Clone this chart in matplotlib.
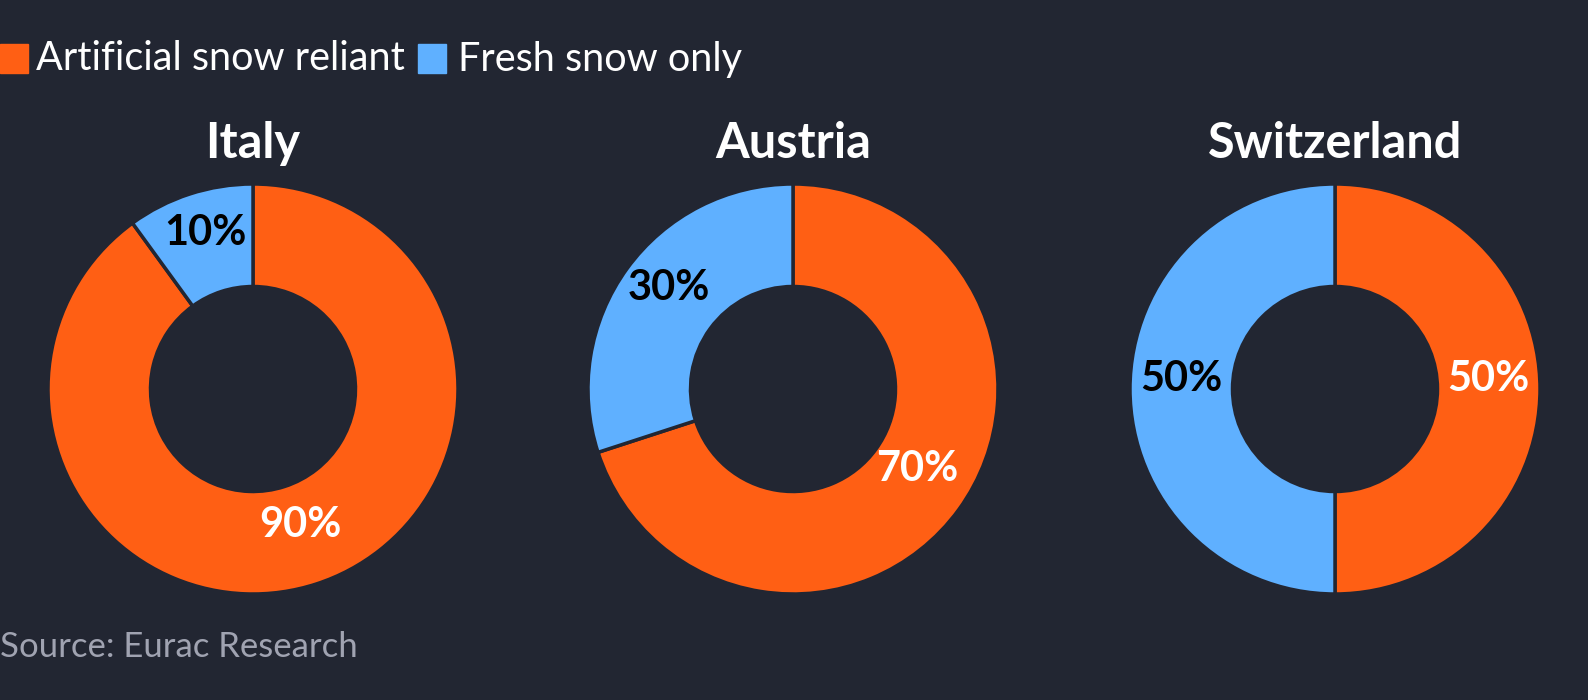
import numpy as np
import matplotlib.pyplot as plt

countries = ['Italy', 'Austria', 'Switzerland']
artificial = [90, 70, 50]
fresh = [10, 30, 50]
series_names = ['Artificial snow reliant', 'Fresh snow only']
source = 'Source: Eurac Research'

bg = '#222632'
orange = '#ff5f14'
blue = '#5fb0ff'

plt.rcParams['font.family'] = ['Lato', 'DejaVu Sans']

W, H = 1588, 700
fig = plt.figure(figsize=(W / 100, H / 100), dpi=100, facecolor=bg)

centers_x = [253, 793, 1335]
cy = 389
R = 205

for i, name in enumerate(countries):
    cx = centers_x[i]
    ax = fig.add_axes([(cx - R) / W, (H - cy - R) / H, 2 * R / W, 2 * R / H])
    ax.set_facecolor(bg)
    vals = [artificial[i], fresh[i]]
    wedges, _ = ax.pie(vals, colors=[orange, blue], startangle=90, counterclock=False,
                       radius=1, wedgeprops=dict(width=0.5, edgecolor=bg, linewidth=2.5))
    ax.set_xlim(-1, 1)
    ax.set_ylim(-1, 1)
    ax.set_aspect('equal')
    for w, v, tc in zip(wedges, vals, ['white', 'black']):
        ang = np.deg2rad((w.theta1 + w.theta2) / 2)
        ax.text(0.75 * np.cos(ang), 0.75 * np.sin(ang) + 0.05, f'{v}%', ha='center', va='center',
                color=tc, fontsize=30, fontweight='bold')
    fig.text(cx / W, 1 - 143 / H, name, ha='center', va='center', color='white',
             fontsize=35, fontweight='bold')

# legend
fig.patches.append(plt.Rectangle((0, 1 - 73 / H), 28 / W, 29 / H, transform=fig.transFigure,
                                 color=orange, figure=fig))
fig.text(36 / W, 1 - 59 / H, series_names[0], ha='left', va='center', color='white', fontsize=28.5)
fig.patches.append(plt.Rectangle((418 / W, 1 - 73 / H), 28 / W, 29 / H, transform=fig.transFigure,
                                 color=blue, figure=fig))
fig.text(458 / W, 1 - 59 / H, series_names[1], ha='left', va='center', color='white', fontsize=28.5)

fig.text(0, 1 - 647 / H, source, ha='left', va='center', color='#a0a3b1', fontsize=25)

fig.savefig('out.png', dpi=100, facecolor=bg)
